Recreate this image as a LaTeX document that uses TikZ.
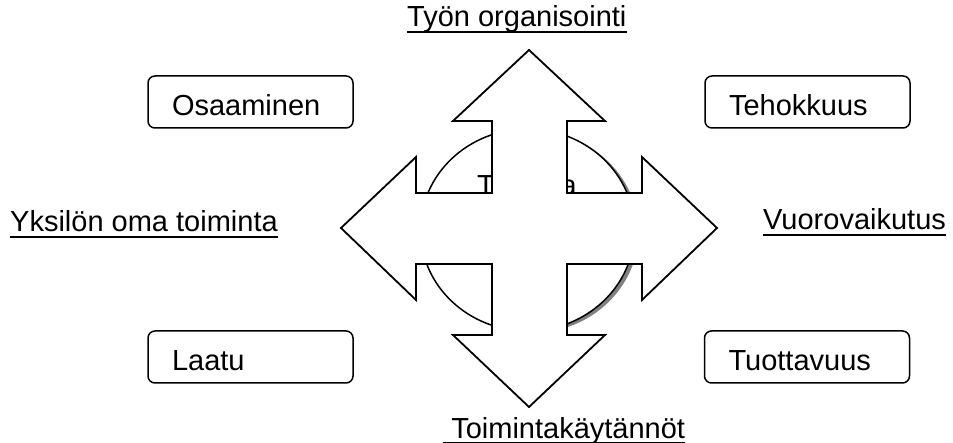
\documentclass[tikz,border=0pt]{standalone}
\usepackage{fontspec}
\setmainfont{Liberation Sans}
\usetikzlibrary{positioning}
\definecolor{myshadow}{RGB}{128,128,128}

\begin{document}
\begin{tikzpicture}[x=1pt, y=-1pt,
    every node/.style={font=\fontsize{29}{34}\selectfont},
    lab/.style={anchor=base west, inner sep=0pt},
    cellbox/.style={draw, rounded corners=7pt, line width=1.5pt, minimum width=205pt,
      minimum height=52pt, inner xsep=24pt, text width=157pt, text height=27pt,
      text depth=0pt, align=left},
    uline/.style={line width=2.5pt}]
  \useasboundingbox (0,0) rectangle (953,443);
  % circle behind the cross, with its shadow
  \fill[myshadow] (531.5,232) ellipse [x radius=107pt, y radius=101pt];
  \draw[fill=white, line width=1.5pt] (527.5,230) ellipse [x radius=107pt, y radius=101pt];
  \node[lab] (ct) at (477,196) {T};
  \node[anchor=base east, inner sep=0pt] (ca) at (577,196) {a};
  % four-way arrow on top
  \draw[fill=white, line width=1.8pt, line join=miter]
    (529,50) -- (605,121) -- (567,121) -- (567,193) -- (642,193) -- (642,157)
    -- (717,228) -- (642,300) -- (642,264) -- (567,264) -- (567,335) -- (605,335)
    -- (529,407) -- (453,335) -- (492,335) -- (492,264) -- (416,264) -- (416,300)
    -- (341,228) -- (416,157) -- (416,193) -- (492,193) -- (492,121) -- (453,121)
    -- cycle;
  % axis labels
  \node[lab] (org) at (407,27) {Työn organisointi};
  \node[lab] (yks) at (10,232) {Yksilön oma toiminta\ };
  \node[lab] (vuo) at (763,230) {Vuorovaikutus};
  \node[lab] (toim) at (443,438) {\ Toimintakäytännöt};
  \foreach \n in {org,yks,vuo,toim}
    \draw[uline] ([yshift=-5pt]\n.base west) -- ([yshift=-5pt]\n.base east);
  % corner boxes
  \node[cellbox] (osa) at (250.5,102) {Osaaminen};
  \node[cellbox] (teh) at (807.5,102) {Tehokkuus};
  \node[cellbox] (laa) at (250.5,357) {Laatu};
  \node[cellbox] (tuo) at (807,357) {Tuottavuus};
\end{tikzpicture}
\end{document}
